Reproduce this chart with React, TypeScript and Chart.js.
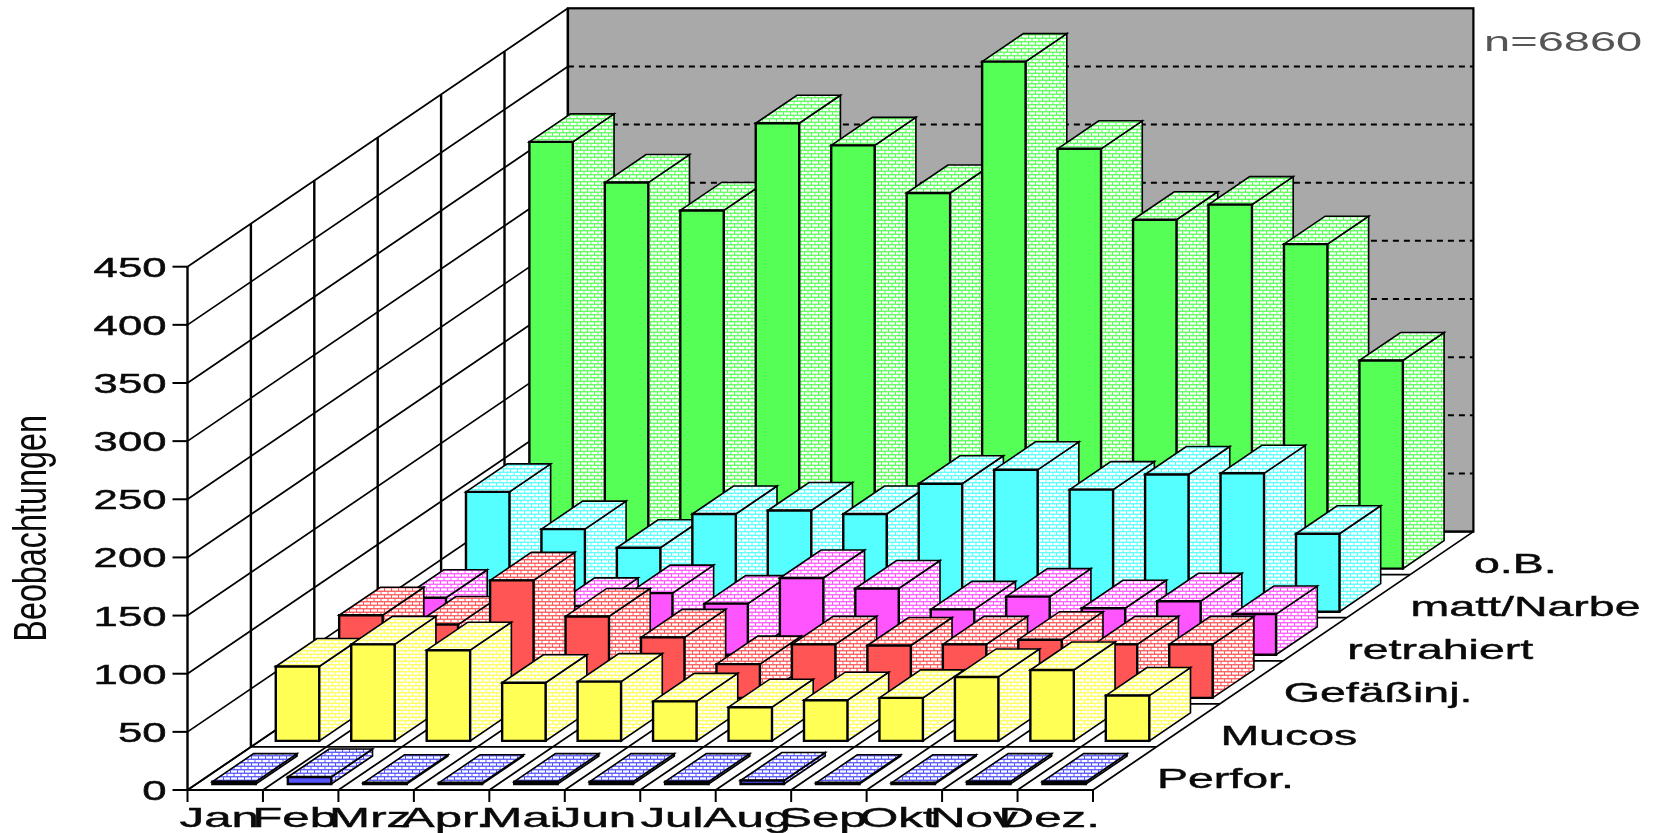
import React, { useEffect, useRef } from "react";
import { Chart, BarController, BarElement, CategoryScale, LinearScale } from "chart.js";

const months = ["Jan", "Feb", "Mrz", "Apr.", "Mai", "Jun", "Jul", "Aug", "Sep", "Okt", "Nov", "Dez."];

// Rows run from the front of the floor to the back wall.
const perfor = [2, 6, 1, 1, 2, 2, 2, 3, 1, 1, 2, 2];
const mucos = [64, 83, 78, 50, 51, 34, 29, 35, 37, 55, 61, 39];
const gefaess = [71, 63, 101, 70, 52, 29, 46, 45, 46, 50, 46, 46];
const retrahiert = [49, 30, 42, 53, 44, 66, 57, 39, 50, 40, 46, 35];
const mattNarbe = [103, 71, 55, 84, 87, 84, 110, 122, 105, 118, 119, 67];
const oB = [367, 332, 308, 383, 364, 323, 436, 361, 300, 313, 279, 179];

const rowLabels = ["Perfor.", "Mucos", "Gefäßinj.", "retrahiert", "matt/Narbe", "o.B."];
const rowValues = [perfor, mucos, gefaess, retrahiert, mattNarbe, oB];
const rowColors = ["#5555ff", "#ffff55", "#ff5555", "#ff55ff", "#55ffff", "#55ff55"];

const yTicks = { min: 0, max: 450, stepSize: 50 };
const yTitle = "Beobachtungen";
const sampleNote = "n=6860";

// Oblique projection: every row shifts by one floor cell up and to the right.
const CELL_DX = 63.4;
const CELL_DY = 43.07;
const ROWS = rowLabels.length;
const ROW_MARGIN = 0.14;
const BAR_DEPTH = 0.65;
const FONT = '"Liberation Sans", Arial, sans-serif';
const INK = "#000";

// Pale brick texture used on the side and top faces of the boxes.
function brickPattern(ctx: CanvasRenderingContext2D, color: string) {
  const tile = document.createElement("canvas");
  tile.width = 7;
  tile.height = 7;
  const t = tile.getContext("2d")!;
  t.fillStyle = color;
  t.fillRect(0, 0, 7, 7);
  t.fillStyle = "#fff";
  t.fillRect(0, 0.4, 6, 2.2);
  t.fillRect(3.5, 3.9, 3.5, 2.2);
  t.fillRect(0, 3.9, 2.5, 2.2);
  return ctx.createPattern(tile, "repeat")!;
}

function wideText(
  ctx: CanvasRenderingContext2D,
  text: string,
  x: number,
  y: number,
  opts: { sx: number; align?: CanvasTextAlign; color?: string; weight?: number }
) {
  const weight = opts.weight ?? 0.45;
  ctx.save();
  ctx.translate(x, y);
  ctx.scale(opts.sx, 1);
  ctx.font = `28px ${FONT}`;
  ctx.fillStyle = opts.color ?? "#0a0a0a";
  ctx.strokeStyle = opts.color ?? "#0a0a0a";
  ctx.textAlign = opts.align ?? "left";
  ctx.textBaseline = "alphabetic";
  ctx.fillText(text, 0, 0);
  if (weight > 0) {
    ctx.lineWidth = weight;
    ctx.strokeText(text, 0, 0);
  }
  ctx.restore();
}

// A bar controller that turns each bar element into a box, set back by its dataset's row.
class Bar3DController extends BarController {
  static id = "bar3d";
  static defaults = BarController.defaults;
  static overrides = BarController.overrides;

  draw() {
    const ctx = this.chart.ctx;
    const row = this.index;
    const color = rowColors[row];
    const pattern = brickPattern(ctx, color);
    const ox = CELL_DX * (row + ROW_MARGIN);
    const oy = -CELL_DY * (row + ROW_MARGIN);
    const bx = CELL_DX * BAR_DEPTH;
    const by = CELL_DY * BAR_DEPTH;

    ctx.save();
    ctx.lineJoin = "miter";
    ctx.strokeStyle = INK;
    for (const el of this.getMeta().data as any[]) {
      const { x, y, base, width } = el.getProps(["x", "y", "base", "width"], true);
      const l = x - width / 2 + ox;
      const r = x + width / 2 + ox;
      const t = y + oy;
      const b = base + oy;

      ctx.lineWidth = 1.6;
      ctx.fillStyle = pattern;
      ctx.beginPath();
      ctx.moveTo(r, t);
      ctx.lineTo(r + bx, t - by);
      ctx.lineTo(r + bx, b - by);
      ctx.lineTo(r, b);
      ctx.closePath();
      ctx.fill();
      ctx.stroke();

      ctx.beginPath();
      ctx.moveTo(l, t);
      ctx.lineTo(l + bx, t - by);
      ctx.lineTo(r + bx, t - by);
      ctx.lineTo(r, t);
      ctx.closePath();
      ctx.fill();
      ctx.stroke();

      ctx.lineWidth = 2.4;
      ctx.fillStyle = color;
      ctx.beginPath();
      ctx.rect(l, t, r - l, b - t);
      ctx.fill();
      ctx.stroke();
    }
    ctx.restore();
  }
}

// Walls, floor grid, axis ticks and all captions, driven by the chart's two scales.
const stagePlugin = {
  id: "stage",
  beforeDatasetsDraw(chart: Chart) {
    const { ctx } = chart;
    const xs = chart.scales.x as any;
    const ys = chart.scales.y as any;
    const left = xs.left;
    const right = xs.right;
    const floor = ys.getPixelForValue(0);
    const top = ys.getPixelForValue(yTicks.max);
    const dx = CELL_DX * ROWS;
    const dy = CELL_DY * ROWS;
    const cell = (right - left) / months.length;

    const line = (x1: number, y1: number, x2: number, y2: number, w = 1.5) => {
      ctx.lineWidth = w;
      ctx.beginPath();
      ctx.moveTo(x1, y1);
      ctx.lineTo(x2, y2);
      ctx.stroke();
    };

    ctx.save();
    ctx.strokeStyle = INK;
    ctx.fillStyle = "#a9a9a9";
    ctx.fillRect(left + dx, top - dy, right - left, floor - top);

    // Back wall gridlines
    ctx.setLineDash([6, 5]);
    for (const tick of ys.ticks) {
      if (tick.value === 0 || tick.value === yTicks.max) continue;
      const py = ys.getPixelForValue(tick.value) - dy;
      line(left + dx, py, right + dx, py, 2);
    }
    ctx.setLineDash([]);
    ctx.lineWidth = 2.2;
    ctx.strokeRect(left + dx, top - dy, right - left, floor - top);

    // Side wall: a vertical per floor row and a slanted line per value tick
    for (let i = 0; i <= ROWS; i++) {
      line(left + CELL_DX * i, top - CELL_DY * i, left + CELL_DX * i, floor - CELL_DY * i, 2.4);
    }
    for (const tick of ys.ticks) {
      const py = ys.getPixelForValue(tick.value);
      line(left, py, left + dx, py - dy, 1.7);
      line(left - 15, py, left, py, 2);
      wideText(ctx, String(tick.value), left - 21, py + 10, { sx: 1.56, align: "right" });
    }

    // Floor grid
    for (let i = 0; i <= ROWS; i++) {
      line(left + CELL_DX * i, floor - CELL_DY * i, right + CELL_DX * i, floor - CELL_DY * i, i === 0 ? 2.2 : 1.7);
    }
    for (let k = 0; k <= months.length; k++) {
      const px = left + cell * k;
      line(px, floor, px + dx, floor - dy, 1.7);
      line(px, floor, px, floor + 12, 2);
    }

    // Month captions
    months.forEach((m, k) => {
      wideText(ctx, m, xs.getPixelForValue(k) - 6, floor + 37, { sx: 1.76, align: "center" });
    });

    // Row captions step back with the floor
    rowLabels.forEach((name, i) => {
      wideText(ctx, name, right + 64 + CELL_DX * i, floor - 2 - CELL_DY * i, { sx: 1.66 });
    });

    // Rotated, narrow value-axis title
    ctx.save();
    ctx.font = `46px ${FONT}`;
    const natural = ctx.measureText(yTitle).width;
    ctx.translate(45.7, 641.7);
    ctx.rotate(-Math.PI / 2);
    ctx.scale(226.7 / natural, 1);
    ctx.fillStyle = "#0a0a0a";
    ctx.fillText(yTitle, 0, 0);
    ctx.restore();

    wideText(ctx, sampleNote, 1484, 50.5, { sx: 1.68, color: "#555", weight: 0 });
    ctx.restore();
  },
};

Chart.register(Bar3DController, BarElement, CategoryScale, LinearScale);

export default function App() {
  const ref = useRef<HTMLCanvasElement>(null);

  useEffect(() => {
    const chart = new Chart(ref.current!, {
      type: "bar3d" as any,
      data: {
        labels: months,
        datasets: rowLabels.map((label, i) => ({
          label,
          data: rowValues[i],
          grouped: false,
          clip: false,
          barPercentage: 0.576,
          categoryPercentage: 1,
        })),
      } as any,
      options: {
        animation: false,
        responsive: false,
        devicePixelRatio: 1,
        layout: { padding: { left: 187.5, right: 568, top: 266.7, bottom: 43 } },
        scales: {
          x: { type: "category", display: false },
          y: { type: "linear", display: false, min: yTicks.min, max: yTicks.max, ticks: { stepSize: yTicks.stepSize } },
        },
        plugins: {},
        events: [],
      } as any,
      plugins: [stagePlugin as any],
    });
    return () => chart.destroy();
  }, []);

  return (
    <canvas
      ref={ref}
      width={1661}
      height={833}
      style={{ position: "fixed", left: 0, top: 0, display: "block", background: "#fff" }}
    />
  );
}
